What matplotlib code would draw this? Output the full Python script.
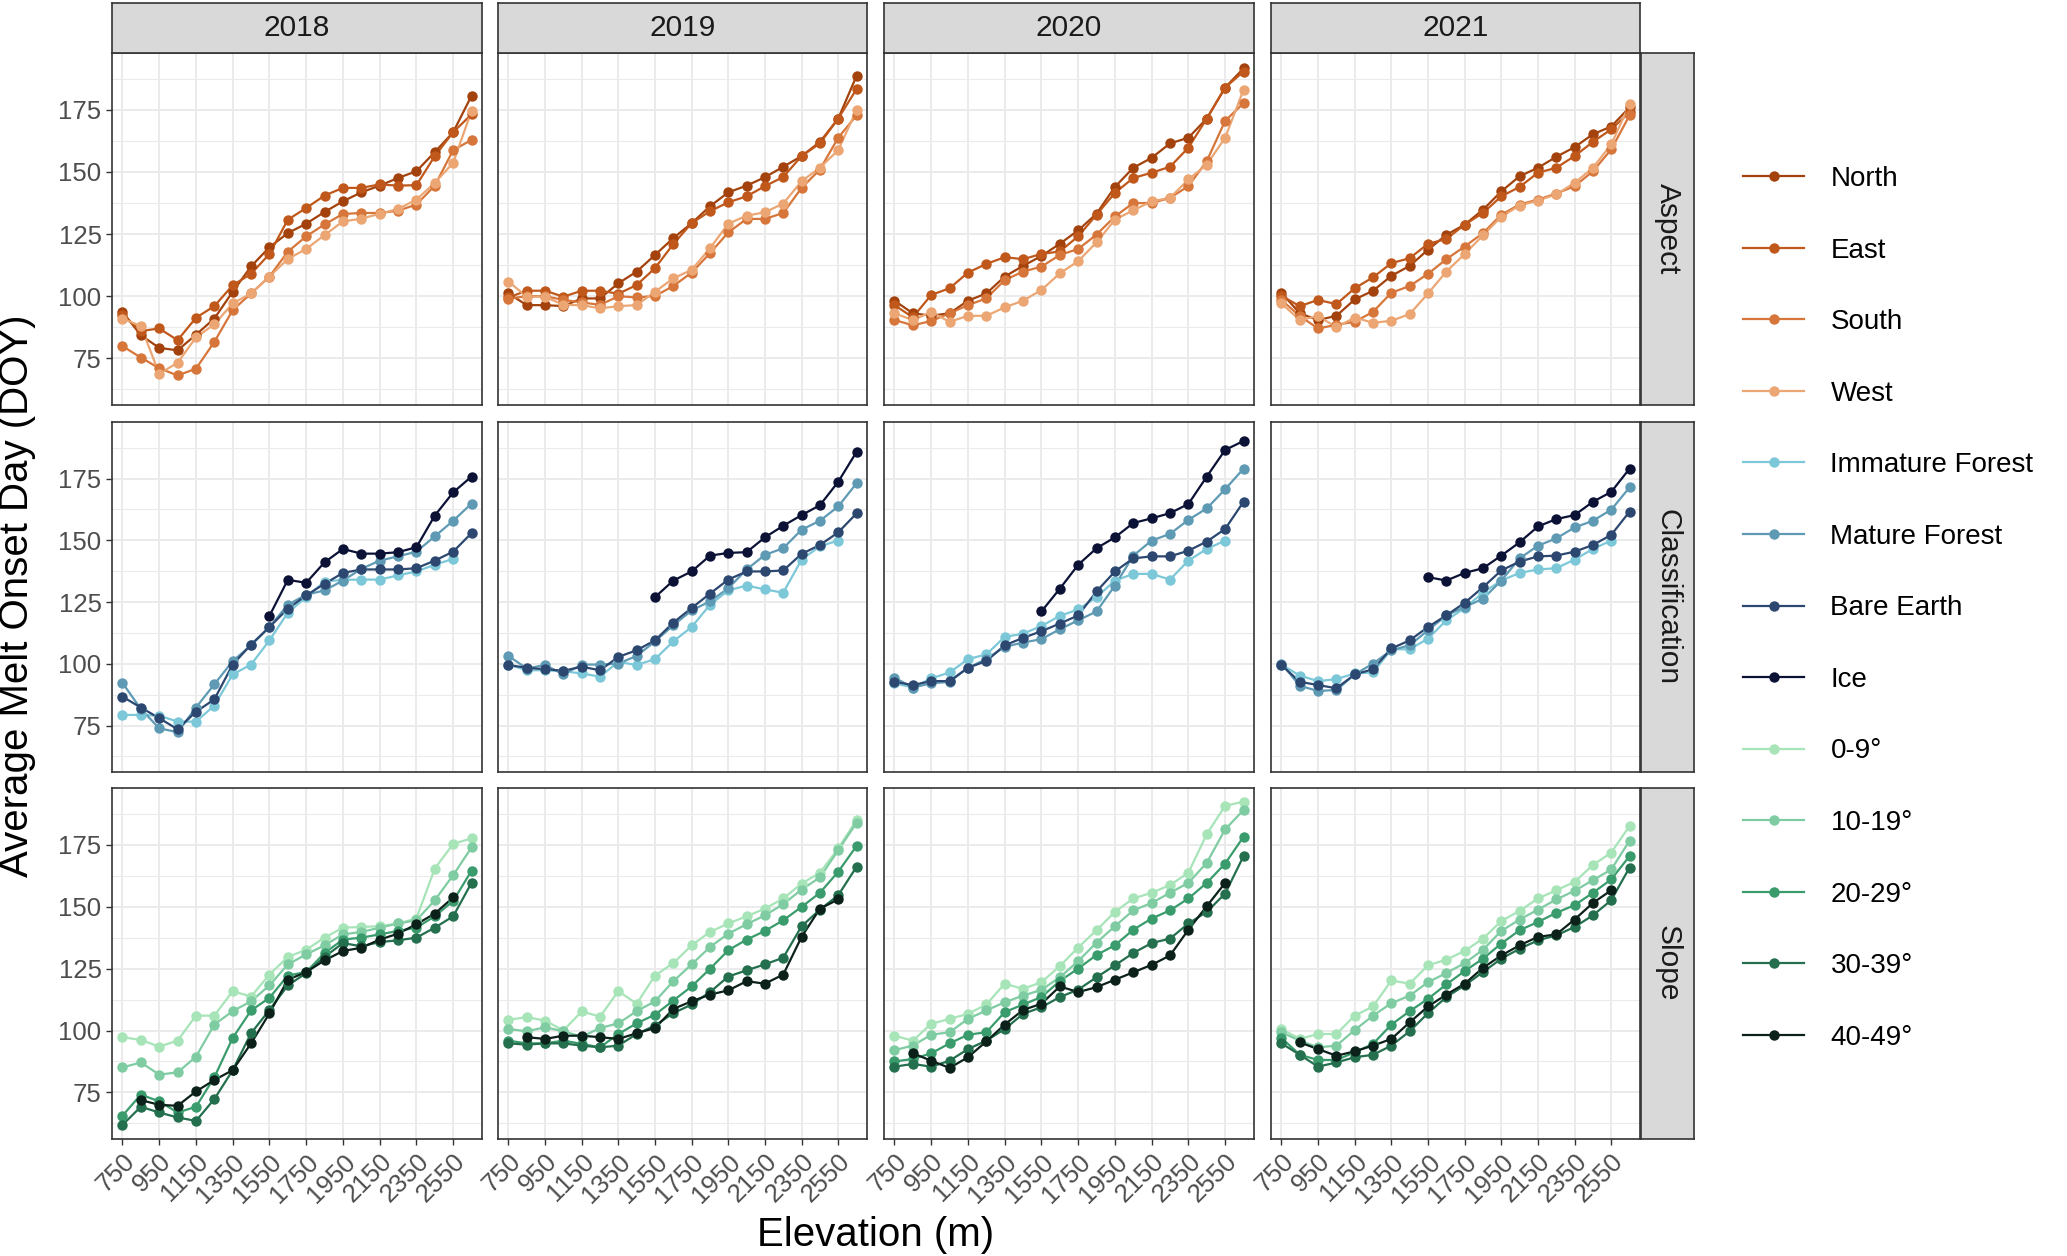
import matplotlib
matplotlib.use("Agg")
import matplotlib.pyplot as plt
from matplotlib.lines import Line2D
import numpy as np

plt.rcParams['font.family'] = ['Liberation Sans', 'DejaVu Sans']

# elevation bins (m) and facet years
elev = list(range(750, 2651, 100))
years = [2018, 2019, 2020, 2021]

# ---- Aspect (one list per year, 750-2650 m) ----
north = [
    [93.7, 84.3, 79.2, 78.2, 84.5, 91.0, 101.8, 112.0, 119.7, 125.4, 129.2, 133.9, 138.2, 141.8, 144.5, 147.6, 150.3, 158.0, 166.0, 180.7],
    [101.1, 96.4, 96.4, 96.0, 99.1, 99.1, 105.2, 109.9, 116.6, 123.4, 129.4, 136.2, 141.8, 144.5, 147.9, 152.1, 156.4, 162.1, 171.5, 188.7],
    [98.2, 93.1, 92.2, 93.1, 98.2, 101.1, 107.9, 112.2, 116.2, 121.1, 126.5, 133.2, 144.0, 151.7, 155.7, 161.5, 163.8, 171.5, 184.0, 191.7],
    [101.4, 93.1, 90.4, 92.1, 98.7, 102.2, 108.2, 112.2, 118.7, 124.7, 128.8, 134.8, 142.2, 148.3, 151.7, 156.1, 160.0, 165.2, 168.3, 176.0],
]
east = [
    [92.4, 86.0, 87.0, 82.3, 91.3, 96.0, 104.4, 109.0, 117.0, 130.8, 135.5, 140.5, 143.6, 143.6, 145.0, 144.5, 144.7, 156.4, 166.0, 173.2],
    [99.5, 102.2, 102.2, 99.8, 102.2, 102.2, 101.0, 104.5, 111.3, 121.0, 129.4, 134.2, 137.8, 140.2, 144.3, 148.0, 156.4, 161.5, 171.5, 183.4],
    [96.4, 91.5, 100.5, 103.2, 109.5, 113.0, 115.7, 114.9, 117.0, 118.0, 124.1, 132.8, 141.6, 147.6, 149.7, 152.1, 159.8, 171.5, 184.0, 190.4],
    [100.1, 96.0, 98.5, 96.8, 103.2, 107.6, 113.3, 115.3, 121.1, 123.0, 128.8, 133.5, 140.2, 144.0, 149.7, 151.7, 156.4, 162.1, 167.2, 174.0],
]
south = [
    [79.9, 75.3, 71.0, 68.1, 70.8, 81.6, 94.4, 101.1, 107.9, 117.9, 124.1, 128.9, 133.1, 133.5, 133.5, 134.4, 136.9, 144.5, 158.8, 162.9],
    [99.0, 100.0, 100.0, 98.5, 97.5, 96.5, 100.0, 99.5, 100.1, 104.1, 109.5, 117.3, 125.7, 131.1, 131.1, 133.5, 143.6, 151.0, 163.8, 172.8],
    [90.4, 88.3, 90.0, 93.1, 96.4, 99.1, 106.5, 109.9, 111.9, 116.6, 119.0, 124.8, 132.1, 137.5, 137.5, 139.6, 144.3, 154.4, 170.6, 177.7],
    [98.5, 92.0, 87.0, 88.5, 89.7, 93.7, 101.4, 104.1, 109.0, 114.9, 120.0, 125.4, 132.8, 136.9, 138.9, 141.3, 144.3, 150.3, 159.1, 172.8],
]
west = [
    [91.0, 88.0, 68.8, 73.2, 83.4, 88.7, 97.1, 101.1, 107.9, 115.0, 119.0, 124.6, 130.1, 131.2, 133.2, 135.1, 138.9, 145.6, 153.7, 174.6],
    [105.9, 99.8, 99.8, 96.5, 96.4, 95.1, 96.0, 96.4, 101.8, 107.2, 110.6, 119.3, 129.2, 132.4, 133.8, 137.3, 146.3, 151.7, 158.8, 175.0],
    [93.1, 90.4, 93.6, 89.7, 92.1, 92.1, 95.5, 98.2, 102.5, 109.2, 114.1, 121.7, 130.8, 134.6, 138.2, 139.6, 147.0, 153.0, 163.8, 183.1],
    [97.1, 90.4, 92.0, 87.5, 91.4, 89.3, 90.1, 92.8, 101.1, 109.9, 117.0, 124.5, 132.0, 136.5, 138.5, 141.0, 145.6, 151.7, 161.1, 177.3],
]

# ---- Classification ----
immature = [  # 750-2550 m
    [79.3, 79.3, 79.0, 76.6, 76.6, 83.1, 95.7, 99.7, 109.5, 120.7, 127.0, 133.3, 134.0, 134.1, 134.1, 135.8, 137.4, 140.1, 142.5],
    [99.7, 97.4, 97.4, 97.0, 96.1, 94.8, 100.8, 99.5, 101.9, 109.1, 114.9, 123.9, 129.7, 131.7, 130.1, 128.8, 142.2, 147.6, 149.9],
    [92.1, 90.4, 94.1, 96.5, 101.9, 103.8, 110.9, 112.2, 115.3, 119.4, 122.0, 127.0, 133.7, 136.4, 136.4, 134.1, 141.8, 146.5, 149.9],
    [99.7, 95.2, 93.0, 93.8, 96.1, 96.5, 105.9, 105.9, 110.2, 117.6, 122.6, 128.8, 133.7, 136.8, 138.2, 138.7, 142.2, 146.5, 149.9],
]
mature = [
    [92.3, 81.7, 73.9, 72.3, 82.3, 91.7, 101.1, 107.5, 114.9, 123.9, 128.0, 129.7, 133.7, 138.4, 141.8, 143.5, 145.4, 151.6, 157.9, 164.9],
    [103.2, 98.1, 99.5, 95.7, 99.7, 99.7, 100.1, 103.2, 109.1, 115.6, 121.6, 125.3, 130.6, 138.2, 144.1, 146.8, 154.3, 157.9, 163.7, 173.1],
    [94.4, 90.4, 92.1, 92.7, 98.4, 101.9, 106.9, 108.6, 110.0, 114.0, 117.6, 121.2, 131.7, 143.8, 149.9, 152.6, 158.3, 162.9, 170.7, 179.0],
    [100.1, 91.1, 89.0, 89.4, 95.7, 100.1, 105.5, 107.5, 113.6, 119.6, 123.0, 126.3, 133.7, 142.7, 147.8, 150.8, 155.2, 157.9, 162.4, 171.4],
]
bare = [
    [86.7, 82.3, 78.0, 73.5, 80.6, 85.6, 99.7, 107.8, 114.9, 122.3, 127.7, 132.4, 136.8, 138.2, 138.2, 138.2, 138.7, 141.8, 145.4, 152.9],
    [99.5, 98.4, 97.8, 97.2, 98.8, 97.4, 102.8, 105.5, 109.5, 116.7, 122.6, 128.4, 134.1, 137.4, 137.4, 137.8, 144.5, 148.1, 153.2, 160.9],
    [92.7, 91.4, 93.0, 93.0, 98.4, 101.1, 107.5, 110.5, 113.2, 116.3, 119.6, 129.3, 137.4, 142.7, 143.5, 143.5, 145.8, 149.5, 154.6, 165.6],
    [99.5, 92.7, 91.4, 90.1, 95.7, 97.8, 106.2, 109.5, 114.9, 119.6, 124.7, 131.0, 137.8, 141.4, 143.5, 143.8, 145.4, 148.1, 152.2, 161.6],
]
ice = [  # 1550-2650 m
    [119.4, 134.0, 132.8, 141.1, 146.5, 144.6, 144.6, 145.2, 147.2, 160.0, 169.4, 175.8],
    [127.0, 133.7, 137.4, 143.8, 144.9, 145.2, 151.2, 155.9, 160.2, 164.2, 173.7, 185.8],
    [121.2, 130.4, 140.1, 146.8, 151.2, 157.0, 158.9, 161.0, 164.7, 175.8, 186.6, 190.2],
    [135.1, 133.7, 136.8, 138.7, 143.8, 149.2, 155.6, 158.6, 160.2, 165.6, 169.6, 179.0],
]

# ---- Slope ----
slope_0_9 = [
    [97.3, 96.2, 93.5, 95.9, 106.0, 106.0, 115.9, 113.7, 122.6, 129.7, 132.6, 137.5, 141.5, 141.8, 142.1, 143.2, 145.2, 165.4, 175.3, 177.6],
    [104.3, 105.4, 104.0, 100.0, 107.7, 105.6, 115.9, 110.8, 122.2, 127.2, 134.4, 139.8, 143.2, 146.1, 149.2, 153.3, 159.3, 163.7, 173.5, 185.0],
    [97.9, 95.9, 102.7, 104.7, 106.7, 110.5, 118.9, 116.8, 119.5, 126.0, 133.5, 140.5, 147.9, 153.3, 155.6, 158.7, 163.7, 179.3, 190.7, 192.4],
    [100.6, 96.6, 98.6, 98.6, 106.0, 109.7, 120.2, 118.9, 126.3, 128.6, 132.1, 137.1, 144.2, 148.3, 153.3, 156.6, 160.0, 166.8, 171.8, 182.6],
]
slope_10_19 = [
    [85.1, 87.1, 82.2, 83.1, 89.4, 102.4, 107.8, 111.8, 118.2, 126.7, 130.7, 134.4, 138.8, 139.8, 141.5, 143.2, 144.5, 152.6, 162.7, 173.9],
    [100.6, 99.7, 101.3, 99.7, 97.5, 101.0, 102.9, 107.8, 111.8, 119.9, 126.7, 133.7, 139.1, 142.9, 146.5, 151.0, 156.9, 161.8, 172.8, 183.9],
    [92.1, 93.9, 98.3, 99.3, 104.7, 108.1, 111.4, 114.1, 116.4, 121.5, 128.0, 135.5, 142.1, 148.5, 151.5, 155.6, 159.6, 167.7, 181.2, 189.0],
    [99.3, 95.9, 93.2, 93.9, 100.2, 106.0, 111.0, 114.1, 119.5, 123.2, 127.2, 132.6, 140.2, 144.8, 148.8, 152.9, 156.4, 160.7, 165.0, 176.6],
]
slope_20_29 = [
    [65.6, 74.1, 71.4, 66.9, 69.2, 81.1, 97.0, 108.1, 113.2, 122.2, 123.6, 131.3, 136.7, 137.5, 138.8, 140.2, 141.5, 146.1, 152.3, 164.5],
    [95.9, 94.8, 94.8, 95.9, 94.6, 93.2, 98.6, 102.9, 106.4, 112.1, 117.8, 124.9, 132.4, 136.7, 140.2, 144.5, 149.9, 155.6, 164.1, 174.5],
    [87.5, 88.5, 90.8, 94.8, 98.3, 99.3, 107.4, 110.5, 113.5, 120.0, 125.0, 130.5, 134.4, 140.7, 145.2, 148.5, 153.3, 159.6, 167.4, 178.2],
    [97.0, 90.2, 88.1, 88.1, 91.2, 94.6, 102.4, 107.8, 112.8, 118.6, 124.0, 129.0, 135.1, 140.5, 143.8, 147.5, 150.6, 155.6, 161.0, 170.4],
]
slope_30_39 = [
    [61.9, 69.2, 66.9, 64.9, 63.5, 72.3, 84.0, 98.9, 108.3, 118.2, 123.2, 129.7, 135.3, 134.0, 135.7, 136.4, 137.5, 141.5, 146.1, 159.6],
    [94.8, 94.3, 94.8, 94.8, 93.9, 93.2, 93.9, 98.6, 102.0, 107.0, 110.5, 115.5, 121.8, 124.3, 126.7, 129.4, 142.1, 148.8, 154.6, 166.1],
    [85.4, 86.5, 85.4, 87.8, 92.5, 95.9, 100.6, 106.7, 109.4, 113.5, 116.5, 121.5, 126.3, 131.3, 135.3, 137.1, 143.2, 147.9, 155.3, 170.4],
    [94.8, 90.2, 85.4, 87.1, 89.2, 90.2, 93.9, 99.7, 107.0, 113.5, 118.2, 123.6, 129.0, 133.0, 136.4, 138.4, 141.8, 146.5, 152.6, 165.8],
]
slope_40_49 = [  # 850-2550 m
    [71.9, 70.0, 69.6, 75.4, 80.0, 84.0, 94.8, 106.9, 120.5, 123.6, 128.3, 132.1, 133.4, 136.7, 139.1, 142.9, 147.2, 153.7],
    [97.3, 96.6, 97.9, 97.9, 97.3, 96.6, 98.9, 101.0, 108.7, 111.8, 114.5, 116.2, 119.9, 118.9, 122.6, 137.8, 149.2, 152.9],
    [90.8, 87.8, 84.9, 89.2, 95.6, 102.4, 108.3, 110.8, 117.8, 115.5, 117.5, 120.5, 123.5, 126.5, 130.3, 140.7, 150.2, 159.6],
    [95.2, 92.5, 89.8, 91.6, 93.9, 96.6, 103.3, 109.7, 114.5, 118.9, 125.3, 130.3, 134.4, 137.8, 138.8, 144.8, 151.5, 156.6],
]

# facet rows: (strip label, [(legend label, color, data, first elevation)])
rows = [
    ("Aspect", [("North", "#A3420C", north, 750),
                ("East", "#C0581B", east, 750),
                ("South", "#D7763A", south, 750),
                ("West", "#EBA674", west, 750)]),
    ("Classification", [("Immature Forest", "#7DC8D8", immature, 750),
                        ("Mature Forest", "#5F9AB4", mature, 750),
                        ("Bare Earth", "#2C4770", bare, 750),
                        ("Ice", "#0C1236", ice, 1550)]),
    ("Slope", [("0-9°", "#A7E4B8", slope_0_9, 750),
               ("10-19°", "#7FCCA3", slope_10_19, 750),
               ("20-29°", "#3A9C6D", slope_20_29, 750),
               ("30-39°", "#246F4D", slope_30_39, 750),
               ("40-49°", "#0B2119", slope_40_49, 850)]),
]

W, H = 2067, 1256
col_px = [(112, 482), (498, 867), (884, 1254), (1271, 1640)]
row_px = [(53, 405), (422, 772), (788, 1139)]


def rect(x0, y0, x1, y1):
    return [x0 / W, 1 - y1 / H, (x1 - x0) / W, (y1 - y0) / H]


fig = plt.figure(figsize=(W / 100, H / 100), dpi=100)
border = "#333333"

for r, (facet, series) in enumerate(rows):
    for c, yr in enumerate(years):
        x0, x1 = col_px[c]
        y0, y1 = row_px[r]
        ax = fig.add_axes(rect(x0, y0, x1, y1))
        ax.set_xlim(693, 2707)
        ax.set_ylim(56.2, 197.9)
        ax.set_xticks(list(range(750, 2551, 200)))
        ax.set_xticks([], minor=True)
        ax.set_yticks([75, 100, 125, 150, 175])
        ax.set_yticks(list(np.arange(62.5, 190, 25)), minor=True)
        ax.grid(which="major", color="#EBEBEB", lw=1.4, zorder=0)
        ax.grid(which="minor", axis="y", color="#EBEBEB", lw=0.8, zorder=0)
        ax.set_axisbelow(True)
        for sp in ax.spines.values():
            sp.set_color(border)
            sp.set_linewidth(1.2)
        ax.tick_params(which="both", length=4, width=1, color=border,
                       labelsize=18.5, labelcolor="#4D4D4D")
        ax.tick_params(which="minor", length=0)
        if c == 0:
            ax.set_yticklabels(["75", "100", "125", "150", "175"])
        else:
            ax.tick_params(left=False, labelleft=False)
        if r == len(rows) - 1:
            ax.set_xticklabels([str(v) for v in range(750, 2551, 200)],
                               rotation=45, ha="right", va="top",
                               rotation_mode="anchor")
        else:
            ax.tick_params(bottom=False, labelbottom=False)

        # lines first, then points (like geom_line + geom_point)
        for name, color, data, start in series:
            vals = data[c]
            i0 = elev.index(start)
            ax.plot(elev[i0:i0 + len(vals)], vals, color=color, lw=1.6, zorder=2)
        for name, color, data, start in series:
            vals = data[c]
            i0 = elev.index(start)
            ax.plot(elev[i0:i0 + len(vals)], vals, "o", color=color, ms=7.5,
                    mec="none", zorder=3)

        # top strips
        if r == 0:
            st = fig.add_axes(rect(x0, 3, x1, 53))
            st.set_facecolor("#D9D9D9")
            st.set_xticks([])
            st.set_yticks([])
            for sp in st.spines.values():
                sp.set_color(border)
                sp.set_linewidth(1.2)
            st.text(0.5, 0.5, str(yr), ha="center", va="center", fontsize=21.5,
                    color="#1A1A1A", transform=st.transAxes)
    # right strip
    y0, y1 = row_px[r]
    st = fig.add_axes(rect(1641, y0, 1694, y1))
    st.set_facecolor("#D9D9D9")
    st.set_xticks([])
    st.set_yticks([])
    for sp in st.spines.values():
        sp.set_color(border)
        sp.set_linewidth(1.2)
    st.text(0.5, 0.5, facet, ha="center", va="center", rotation=270,
            fontsize=21.5, color="#1A1A1A", transform=st.transAxes)

fig.text(17 / W, 1 - 596 / H, "Average Melt Onset Day (DOY)", rotation=90,
         ha="center", va="center", fontsize=29)
fig.text(876 / W, 1 - 1235 / H, "Elevation (m)", ha="center", va="center",
         fontsize=29)

handles = []
for facet, series in rows:
    for name, color, data, start in series:
        handles.append(Line2D([], [], color=color, lw=1.6, marker="o", ms=7.5,
                              mec="none", label=name))
fig.legend(handles=handles, loc="upper left", bbox_to_anchor=(1743 / W, 1 - 166 / H),
           frameon=False, fontsize=20, labelspacing=1.64, handlelength=2.2,
           handletextpad=0.95, borderpad=0, borderaxespad=0)

fig.savefig("out.png", dpi=100)
